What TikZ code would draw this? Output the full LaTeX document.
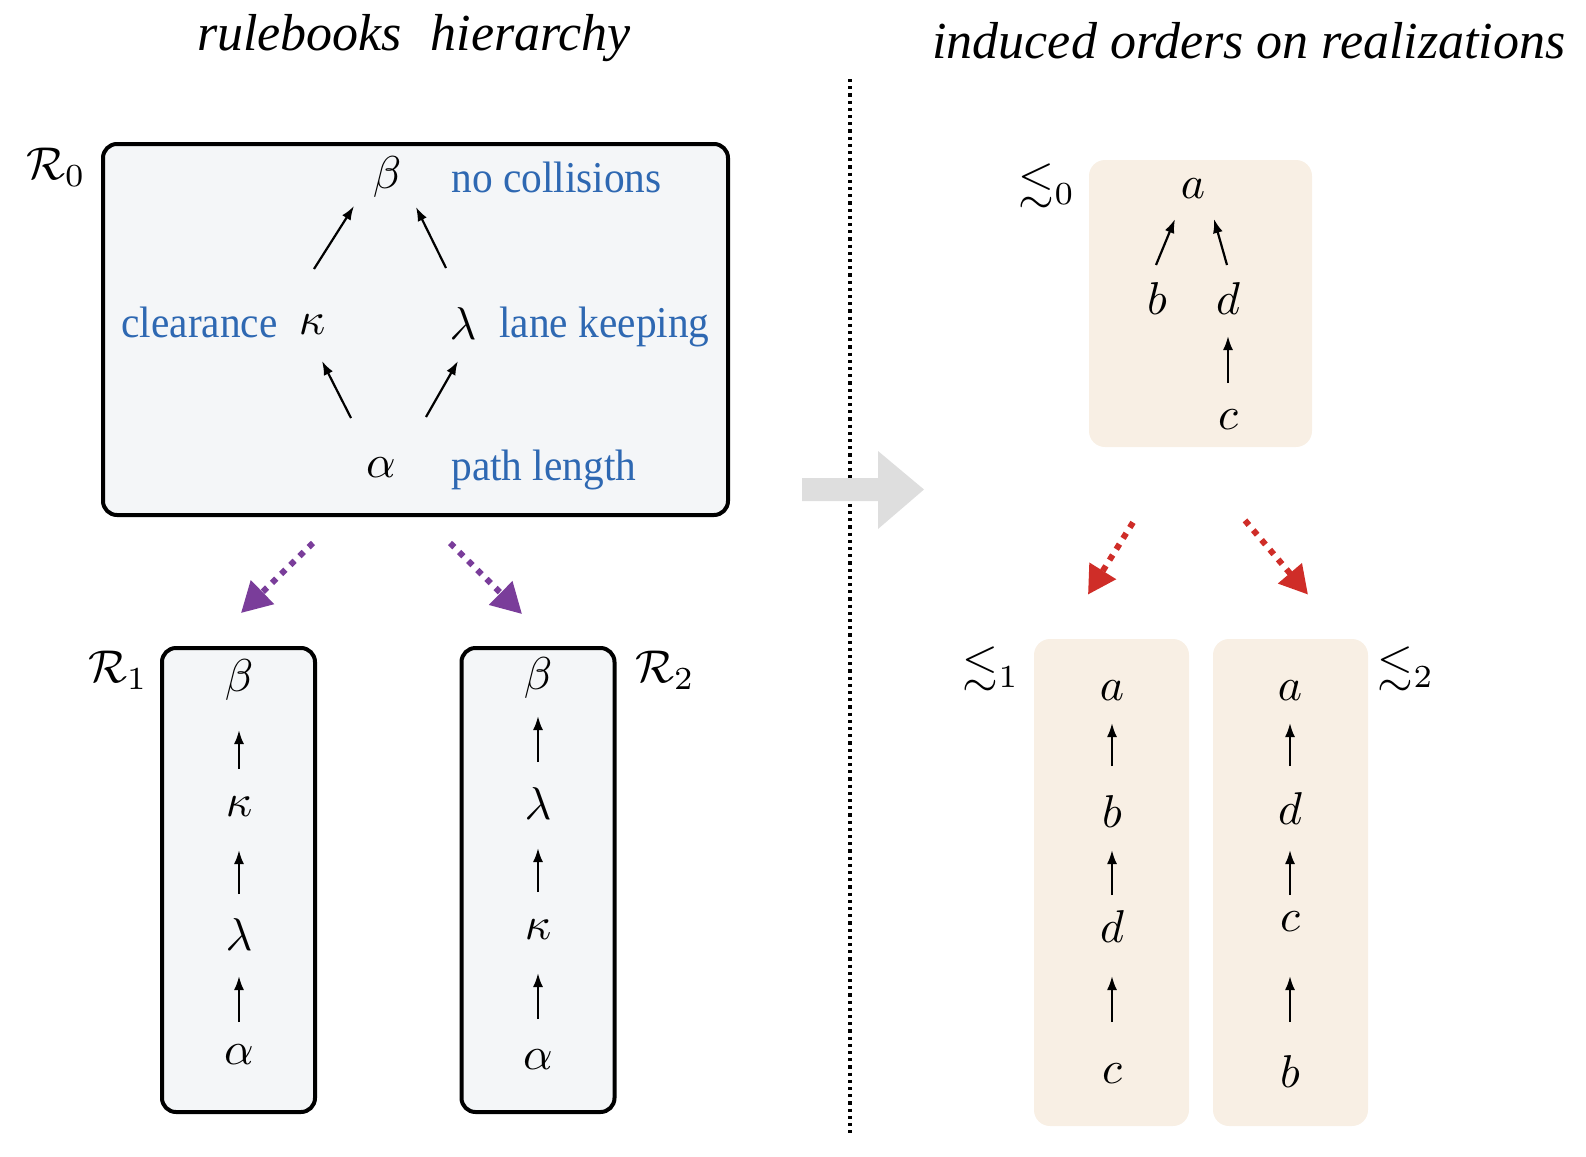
\documentclass[tikz,border=0pt]{standalone}
\usepackage{amsmath,amssymb}
\usepackage{graphicx}
\usepackage[no-math]{fontspec}
\setmainfont{Liberation Serif}
\newfontfamily\lblfont[FakeStretch=0.94]{Liberation Serif}
\usetikzlibrary{arrows.meta,calc}
\definecolor{boxgray}{HTML}{F4F6F8}
\definecolor{beige}{HTML}{F8EFE4}
\definecolor{ruleblue}{HTML}{2E68B2}
\definecolor{purp}{HTML}{7A3D9A}
\definecolor{redd}{HTML}{CF2D28}
\definecolor{grayarrow}{HTML}{DEDEDE}
\newcommand\MyM[1]{\scalebox{2.3}{$#1$}}
\begin{document}
\begin{tikzpicture}[x=0.5pt,y=-0.5pt,
  mth/.style={inner sep=0pt},
  lbl/.style={inner sep=0pt, font=\lblfont\fontsize{22}{26}\selectfont, text=ruleblue},
  ttl/.style={inner sep=0pt, font=\fontsize{26}{30}\selectfont\itshape},
  rbox/.style={draw=black, line width=2pt, rounded corners=7pt, fill=boxgray, inner sep=0pt},
  obox/.style={fill=beige, rounded corners=8pt, inner sep=0pt},
  arr/.style={-{Latex[length=7pt,width=5pt]}, line width=1.1pt},
  parr/.style={purp, line width=3pt, dash pattern=on 3pt off 3.4pt, -{Triangle[length=15pt,width=16pt]}},
  rarr/.style={redd, line width=3pt, dash pattern=on 3pt off 3.4pt, -{Triangle[length=14pt,width=15pt]}},
  sep/.style={line width=1.6pt, dash pattern=on 1.6pt off 2pt}
]
\useasboundingbox (0,0) rectangle (1586,1157);

% titles
\node[ttl] (t1) at (414,38) {rulebooks\hspace{0.55em}hierarchy};
\node[ttl] (t2) at (1249,41) {induced orders on realizations};

% separator and big arrow
\draw[sep] (850,79) -- (850,1133);
\fill[grayarrow] (802,478) -- (878,478) -- (878,451) -- (924,489.5) -- (878,529) -- (878,501) -- (802,501) -- cycle;

% ---------- R0 ----------
\node[rbox, minimum width=312.5pt, minimum height=185.5pt] (R0) at (415.5,329.5) {};
\node[mth] (R0l) at (56,167) {\MyM{\mathcal{R}_0}};
\node[mth] (b0) at (387,177) {\MyM{\beta}};
\node[mth] (k0) at (312,325) {\MyM{\kappa}};
\node[mth] (l0) at (463,324) {\MyM{\lambda}};
\node[mth] (a0) at (381,468) {\MyM{\alpha}};
\node[lbl, anchor=base west] (nc) at (451,192) {no collisions};
\node[lbl, anchor=base east] (cl) at (278,337) {clearance};
\node[lbl, anchor=base west] (lk) at (499,337) {lane keeping};
\node[lbl, anchor=base west] (pl) at (451,480) {path length};
\draw[arr] ($(k0)+(2,-56)$) -- ($(b0)+(-33,29)$);
\draw[arr] ($(l0)+(-17,-56)$) -- ($(b0)+(29,30)$);
\draw[arr] ($(a0)+(-30,-50)$) -- ($(k0)+(10,36)$);
\draw[arr] ($(a0)+(45,-51)$) -- ($(l0)+(-5,37)$);

% ---------- R1 ----------
\node[rbox, minimum width=76.5pt, minimum height=232pt] (R1) at (238.5,880) {};
\node[mth] (R1l) at (118,670) {\MyM{\mathcal{R}_1}};
\node[mth] (b1) at (239,680) {\MyM{\beta}};
\node[mth] (k1) at (239,807) {\MyM{\kappa}};
\node[mth] (l1) at (239,935) {\MyM{\lambda}};
\node[mth] (a1) at (239,1055) {\MyM{\alpha}};
\draw[arr] ($(k1)+(0,-38)$) -- ($(b1)+(0,50)$);
\draw[arr] ($(l1)+(0,-41)$) -- ($(k1)+(0,43)$);
\draw[arr] ($(a1)+(0,-33)$) -- ($(l1)+(0,41)$);

% ---------- R2 ----------
\node[rbox, minimum width=76.5pt, minimum height=232pt] (R2) at (538,880) {};
\node[mth] (R2l) at (665,670) {\MyM{\mathcal{R}_2}};
\node[mth] (b2) at (538,678) {\MyM{\beta}};
\node[mth] (l2) at (538,804) {\MyM{\lambda}};
\node[mth] (k2) at (538,930) {\MyM{\kappa}};
\node[mth] (a2) at (538,1060) {\MyM{\alpha}};
\draw[arr] ($(l2)+(0,-42)$) -- ($(b2)+(0,38)$);
\draw[arr] ($(k2)+(0,-38)$) -- ($(l2)+(0,44)$);
\draw[arr] ($(a2)+(0,-41)$) -- ($(k2)+(0,43)$);

% purple arrows
\draw[parr] ($(R0.south)+(-102.5,26)$) -- ($(R1.north)+(2.5,-33)$);
\draw[parr] ($(R0.south)+(34.5,26)$) -- ($(R2.north)+(-16,-32)$);

% ---------- O0 ----------
\node[obox, minimum width=111.5pt, minimum height=143.5pt] (O0) at (1200.5,303.5) {};
\node[mth] (O0l) at (1047,186) {\MyM{\lesssim_0}};
\node[mth] (oa0) at (1193,189) {\MyM{a}};
\node[mth] (ob0) at (1157,299) {\MyM{b}};
\node[mth] (od0) at (1228,299) {\MyM{d}};
\node[mth] (oc0) at (1228,420) {\MyM{c}};
\draw[arr] ($(ob0)+(-1,-34)$) -- ($(oa0)+(-18,30)$);
\draw[arr] ($(od0)+(-1,-34)$) -- ($(oa0)+(21,30)$);
\draw[arr] ($(oc0)+(0,-37)$) -- ($(od0)+(0,37)$);

% ---------- O1 ----------
\node[obox, minimum width=77.5pt, minimum height=243.5pt] (O1) at (1111.5,882.5) {};
\node[mth] (O1l) at (991,669) {\MyM{\lesssim_1}};
\node[mth] (oa1) at (1112,691) {\MyM{a}};
\node[mth] (ob1) at (1112,812) {\MyM{b}};
\node[mth] (od1) at (1112,927) {\MyM{d}};
\node[mth] (oc1) at (1112,1074) {\MyM{c}};
\draw[arr] ($(ob1)+(0,-46)$) -- ($(oa1)+(0,32)$);
\draw[arr] ($(od1)+(0,-32)$) -- ($(ob1)+(0,38)$);
\draw[arr] ($(oc1)+(0,-52)$) -- ($(od1)+(0,49)$);

% ---------- O2 ----------
\node[obox, minimum width=77.5pt, minimum height=243.5pt] (O2) at (1290.5,882.5) {};
\node[mth] (O2l) at (1406,669) {\MyM{\lesssim_2}};
\node[mth] (oa2) at (1290,691) {\MyM{a}};
\node[mth] (od2) at (1290,809) {\MyM{d}};
\node[mth] (oc2) at (1290,922) {\MyM{c}};
\node[mth] (ob2) at (1290,1072) {\MyM{b}};
\draw[arr] ($(od2)+(0,-43)$) -- ($(oa2)+(0,32)$);
\draw[arr] ($(oc2)+(0,-27)$) -- ($(od2)+(0,41)$);
\draw[arr] ($(ob2)+(0,-50)$) -- ($(oc2)+(0,54)$);

% red arrows
\draw[rarr] ($(O0.south)+(-67.5,75)$) -- ($(O1.north)+(-23.5,-44)$);
\draw[rarr] ($(O0.south)+(44.5,73)$) -- ($(O2.north)+(17.5,-44)$);
\end{tikzpicture}
\end{document}
